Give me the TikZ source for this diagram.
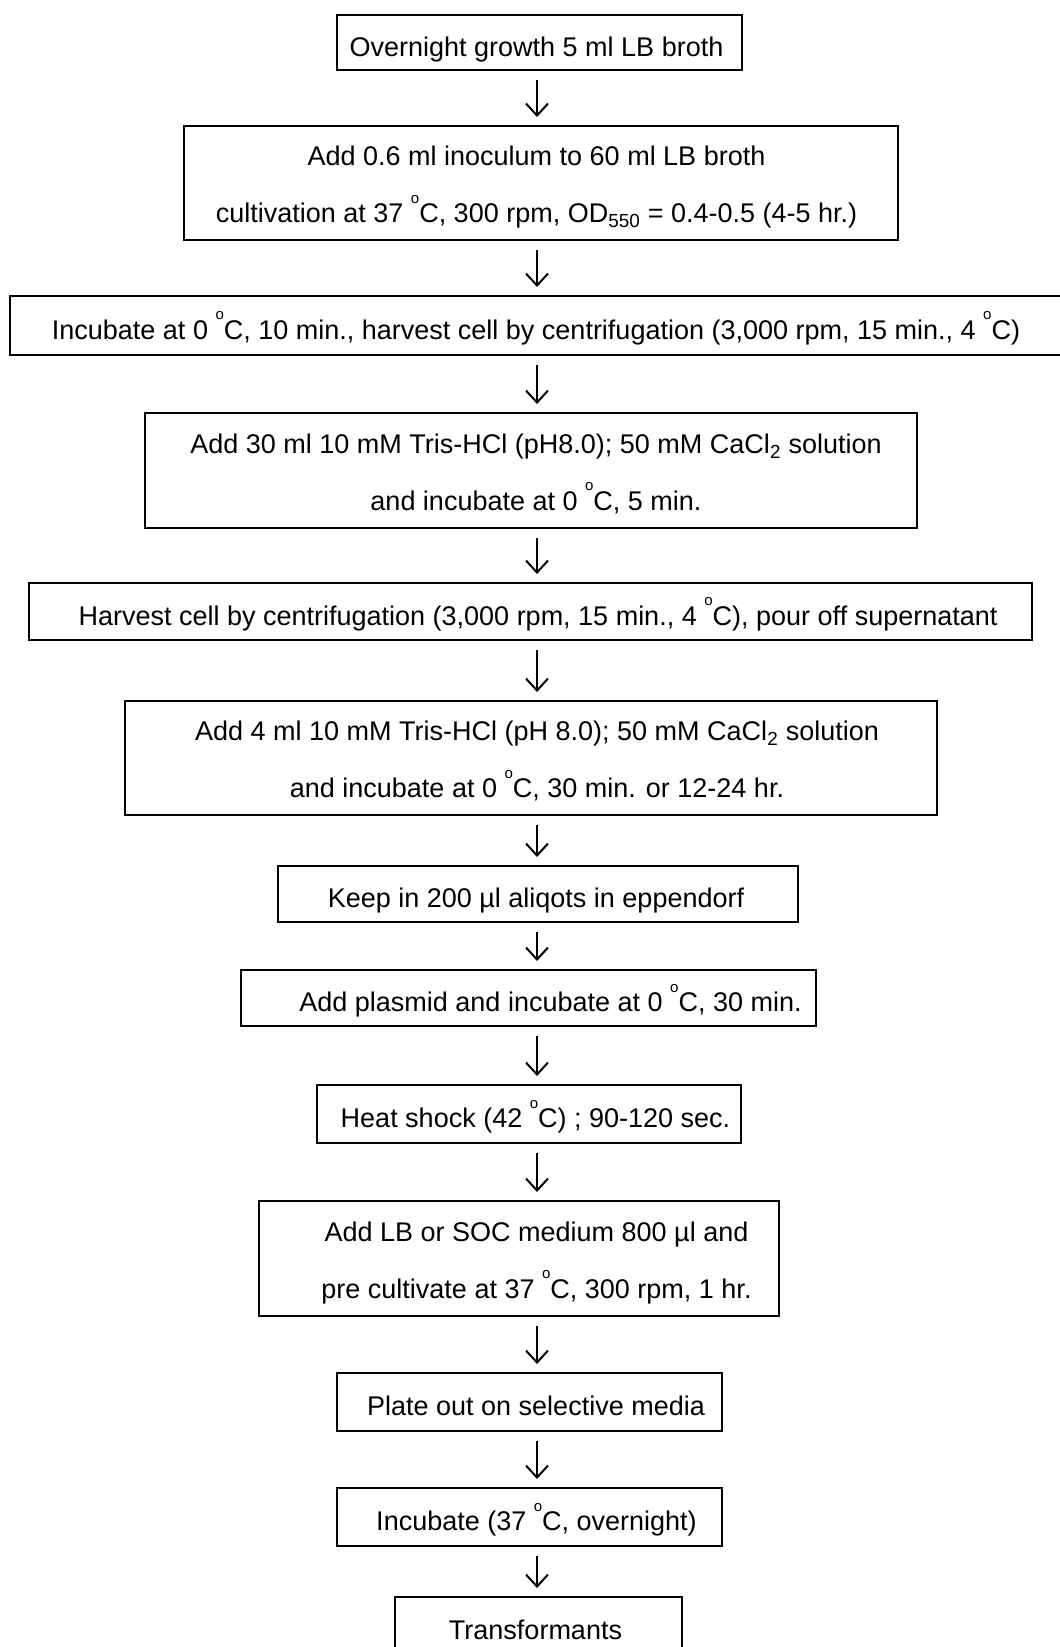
\documentclass[tikz,border=0pt]{standalone}
\usepackage{fontspec}
\setmainfont{Liberation Sans}
\usetikzlibrary{arrows.meta}
\newcommand{\degC}{\raisebox{0.72em}{\fontsize{15}{15}\selectfont o}C}

\begin{document}
\begin{tikzpicture}[x=1pt, y=-1pt,
		stepbox/.style={draw, line width=2pt, inner sep=0pt, font=\fontsize{27}{57}\selectfont},
		oneline/.style={stepbox, text height=27.5pt, text depth=0pt},
		nudge/.style={execute at begin node={\hspace*{#1}}},
		flow/.style={-{Straight Barb[length=12pt,width=22pt]}, line width=2pt, shorten <=9pt, shorten >=8pt}]
		\useasboundingbox (0,0) rectangle (1060,1647);
		\coordinate (axis) at (537,0);
		\node[oneline, nudge=-6pt, minimum width=405pt, minimum height=55pt] (grow) at (539.5,42.5){Overnight growth 5 ml LB broth};
		\node[stepbox, nudge=-9pt, minimum width=714pt, minimum height=114pt] (inoc) at (541,183){\begin{tabular}{c}
			Add 0.6 ml inoculum to 60 ml LB broth\\
			cultivation at 37 \degC, 300 rpm, OD\textsubscript{550} = 0.4-0.5 (4-5 hr.)
			\end{tabular}};
		\node[oneline, minimum width=1052pt, minimum height=59pt] (chill) at (536,325.5){Incubate at 0 \degC, 10 min., harvest cell by centrifugation (3,000 rpm, 15 min., 4 \degC)};
		\node[stepbox, nudge=10pt, minimum width=772pt, minimum height=115pt] (wash) at (531,470.5){\begin{tabular}{c}
			Add 30 ml 10 mM Tris-HCl (pH8.0); 50 mM CaCl\textsubscript{2} solution\\
			and incubate at 0 \degC, 5 min.
			\end{tabular}};
		\node[oneline, nudge=15pt, minimum width=1003pt, minimum height=57pt] (spin) at (530.5,611.5){Harvest cell by centrifugation (3,000 rpm, 15 min., 4 \degC), pour off supernatant};
		\node[stepbox, nudge=12pt, minimum width=812pt, minimum height=114pt] (resus) at (531,758){\begin{tabular}{c}
			Add 4 ml 10 mM Tris-HCl (pH 8.0); 50 mM CaCl\textsubscript{2} solution\\
			and incubate at 0 \degC, 30 min. or 12-24 hr.
			\end{tabular}};
		\node[oneline, nudge=-4pt, minimum width=520pt, minimum height=56pt] (store) at (538,894){Keep in 200 µl aliqots in eppendorf};
		\node[oneline, nudge=44pt, minimum width=575pt, minimum height=56pt] (plasmid) at (528.5,998){Add plasmid and incubate at 0 \degC, 30 min.};
		\node[oneline, nudge=13pt, minimum width=424pt, minimum height=58pt] (shock) at (529,1114){Heat shock (42 \degC) ; 90-120 sec.};
		\node[stepbox, nudge=35pt, minimum width=520pt, minimum height=115pt] (recover) at (519,1258.5){\begin{tabular}{c}
			Add LB or SOC medium 800 µl and\\
			pre cultivate at 37 \degC, 300 rpm, 1 hr.
			\end{tabular}};
		\node[oneline, nudge=13pt, minimum width=385pt, minimum height=58pt] (plate) at (529.5,1402){Plate out on selective media};
		\node[oneline, nudge=14pt, minimum width=385pt, minimum height=58pt] (incub) at (529.5,1517){Incubate (37 \degC, overnight)};
		\node[oneline, nudge=-6pt, minimum width=287pt, minimum height=58pt] (trans) at (538.5,1626){Transformants};
		\draw[flow] (grow.south -| axis) -- (inoc.north -| axis);
		\draw[flow] (inoc.south -| axis) -- (chill.north -| axis);
		\draw[flow] (chill.south -| axis) -- (wash.north -| axis);
		\draw[flow] (wash.south -| axis) -- (spin.north -| axis);
		\draw[flow] (spin.south -| axis) -- (resus.north -| axis);
		\draw[flow] (resus.south -| axis) -- (store.north -| axis);
		\draw[flow] (store.south -| axis) -- (plasmid.north -| axis);
		\draw[flow] (plasmid.south -| axis) -- (shock.north -| axis);
		\draw[flow] (shock.south -| axis) -- (recover.north -| axis);
		\draw[flow] (recover.south -| axis) -- (plate.north -| axis);
		\draw[flow] (plate.south -| axis) -- (incub.north -| axis);
		\draw[flow] (incub.south -| axis) -- (trans.north -| axis);
	\end{tikzpicture}
\end{document}
